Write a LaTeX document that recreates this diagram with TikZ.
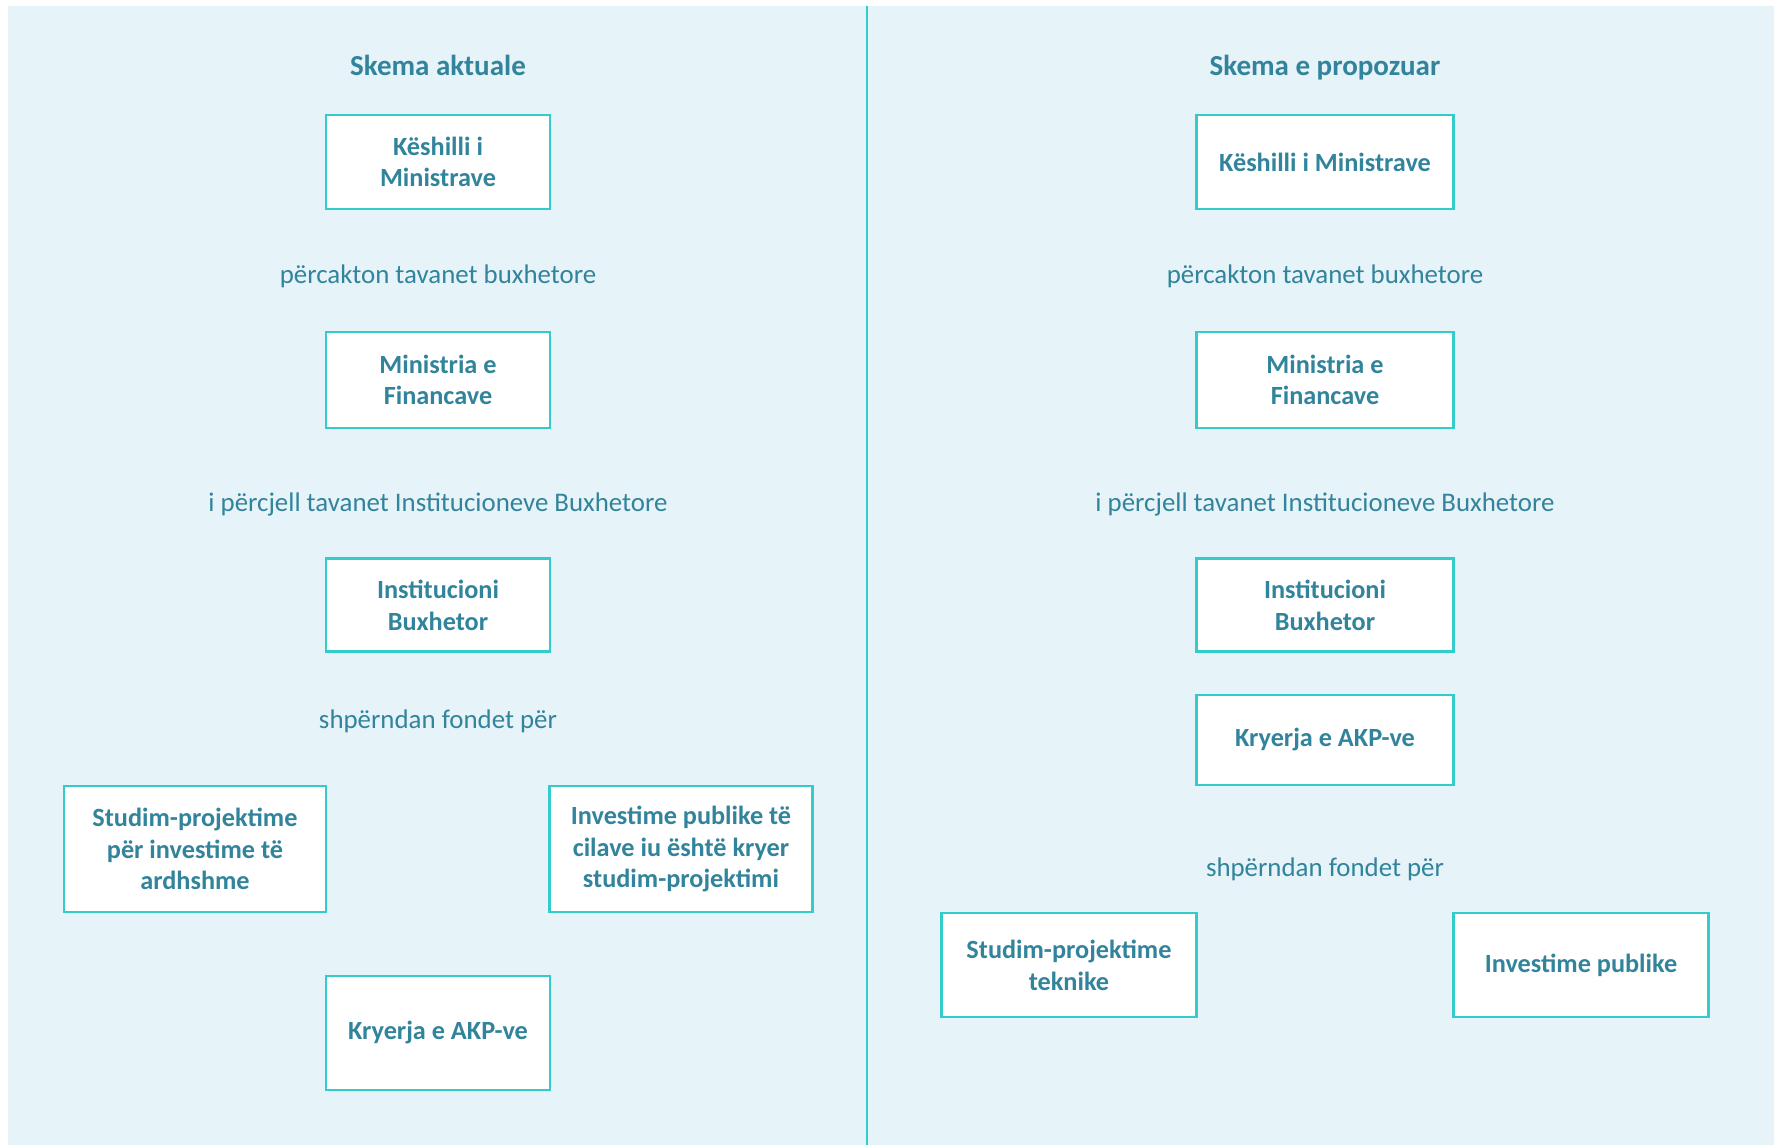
\documentclass[tikz,border=0pt]{standalone}
\usepackage{fontspec}
\setmainfont{Carlito}
\usepackage{tikz}

\definecolor{panelbg}{HTML}{E6F3F8}
\definecolor{boxline}{HTML}{33CBCC}
\definecolor{tealtext}{HTML}{31849B}
\newcommand{\pxu}{0.4pt}

\begin{document}
\begin{tikzpicture}[x=\pxu, y=-\pxu,
  title/.style={font=\fontsize{11.6}{14}\selectfont\bfseries, text=tealtext,
    text height=0.72em, text depth=0.22em},
  verb/.style={font=\fontsize{10.75}{13}\selectfont, text=tealtext,
    text height=0.72em, text depth=0.22em},
  unit/.style={draw=boxline, line width=1pt, fill=white, align=center,
    font=\fontsize{10.5}{12.7}\selectfont\bfseries, text=tealtext, inner sep=0pt},
  size/.style 2 args={minimum width=#1*\pxu, minimum height=#2*\pxu}]
\useasboundingbox (0,0) rectangle (1781,1145);
\fill[panelbg] (8,6) rectangle (1774,1145);
\draw[boxline, line width=0.8pt] (867,6)--(867,1145);
% Skema aktuale
\node[title] (t1) at (438,69) {Skema aktuale};
\node[unit, size={224}{94}] (a1) at (438,162) {Këshilli i\\Ministrave};
\node[verb] (v1) at (438,277) {përcakton tavanet buxhetore};
\node[unit, size={224}{96}] (a2) at (438,380) {Ministria e\\Financave};
\node[verb] (v2) at (438,505) {i përcjell tavanet Institucioneve Buxhetore};
\node[unit, size={224}{93}] (a3) at (438,605) {Institucioni\\Buxhetor};
\node[verb] (v3) at (438,722) {shpërndan fondet për};
\node[unit, size={262}{126}] (a4) at (195,849) {Studim-projektime\\për investime të\\ardhshme};
\node[unit, size={263}{126}] (a5) at (681,849) {Investime publike të\\cilave iu është kryer\\studim-projektimi};
\node[unit, size={224}{114}] (a6) at (438,1033) {Kryerja e AKP-ve};
% Skema e propozuar
\node[title] (t2) at (1325,69) {Skema e propozuar};
\node[unit, size={257}{94}] (b1) at (1325,162) {Këshilli i Ministrave};
\node[verb] (w1) at (1325,277) {përcakton tavanet buxhetore};
\node[unit, size={257}{96}] (b2) at (1325,380) {Ministria e\\Financave};
\node[verb] (w2) at (1325,505) {i përcjell tavanet Institucioneve Buxhetore};
\node[unit, size={257}{93}] (b3) at (1325,605) {Institucioni\\Buxhetor};
\node[unit, size={257}{90}] (b4) at (1325,740) {Kryerja e AKP-ve};
\node[verb] (w3) at (1325,870) {shpërndan fondet për};
\node[unit, size={255}{104}] (b5) at (1069,965) {Studim-projektime\\teknike};
\node[unit, size={255}{104}] (b6) at (1581,965) {Investime publike};
\end{tikzpicture}
\end{document}
